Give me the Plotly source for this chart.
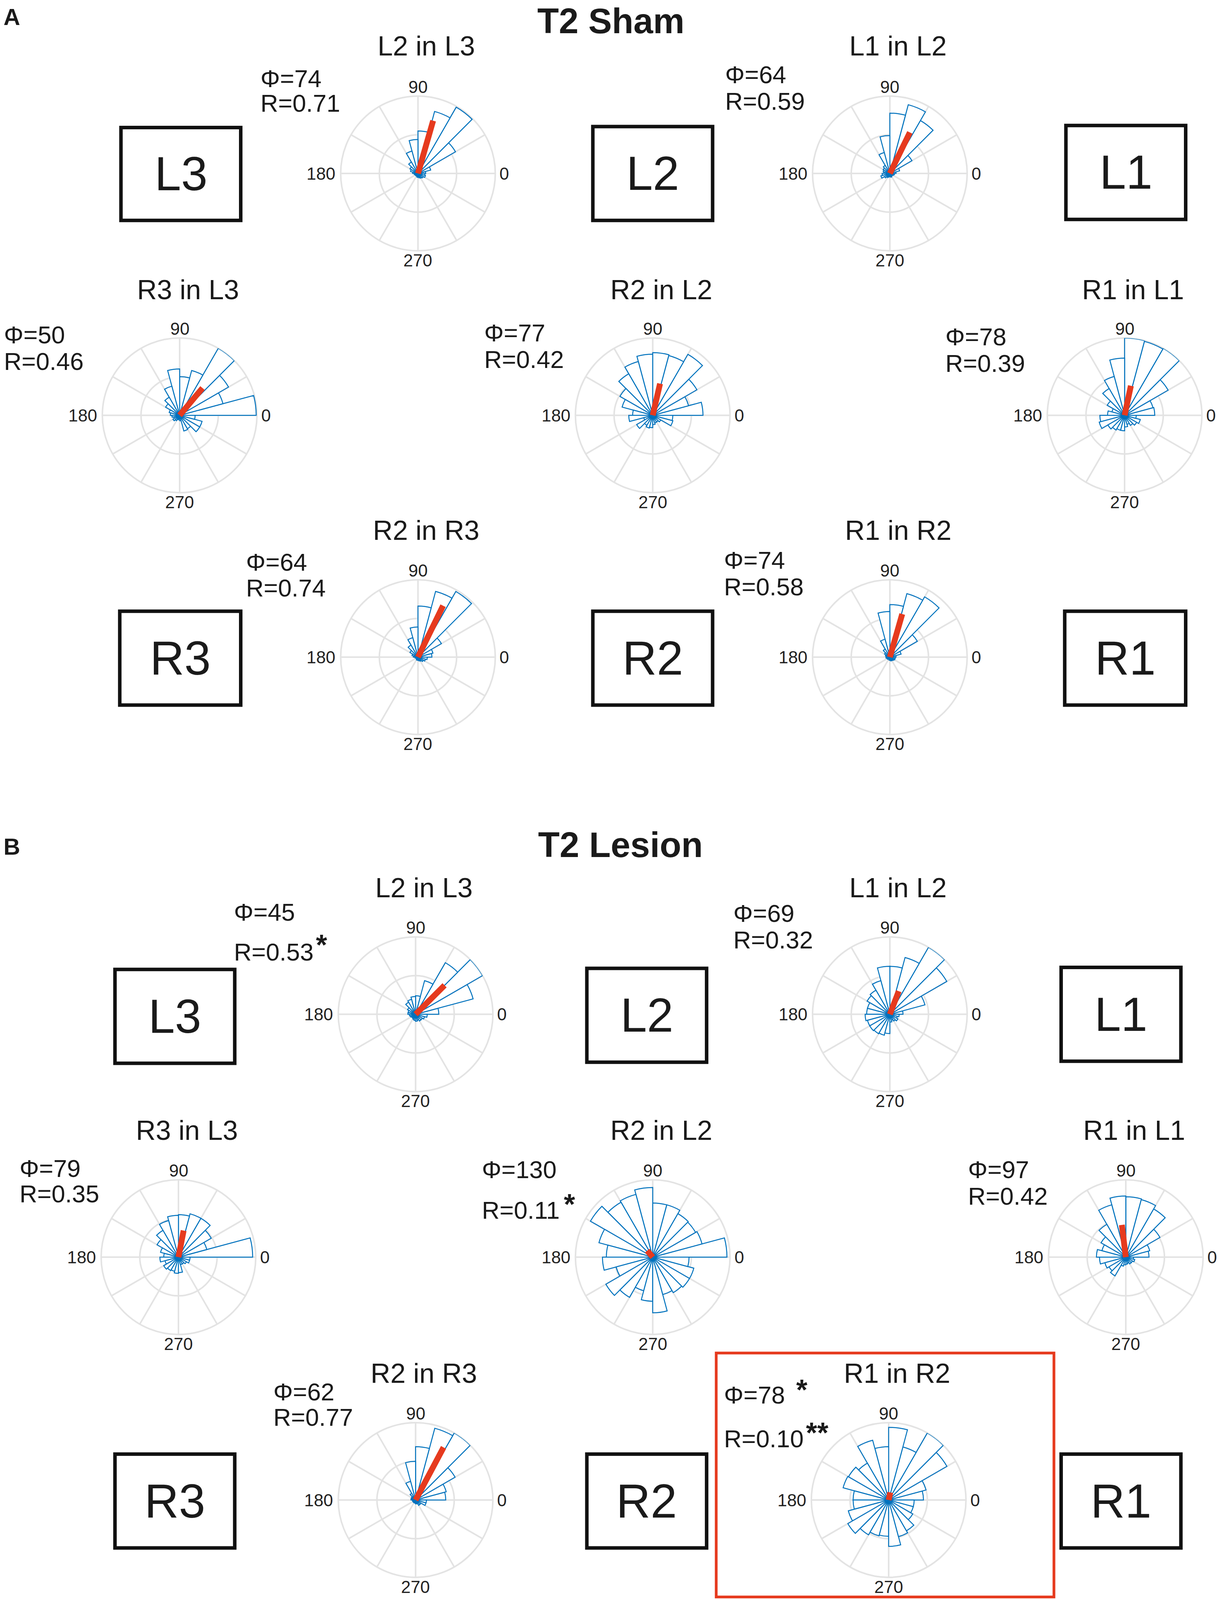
import plotly.graph_objects as go
import plotly.io as pio

W, H = 3150, 4810
FONT = "Liberation Sans, Arial, sans-serif"

# ---------------- data ----------------
bin_width = 15
bin_centers = [7.5 + 15 * i for i in range(24)]   # 0..360 in 15 degree bins

angle_tickvals = [0, 30, 60, 90, 120, 150, 180, 210, 240, 270, 300, 330]
angle_labels = ["0", "90", "180", "270"]

# relative bin heights (outer ring = 1)
sham_L2_in_L3 = [0.10, 0.17, 0.56, 0.99, 0.83, 0.55, 0.44, 0.30, 0.17, 0.12, 0.10, 0.07,
                 0.05, 0.04, 0.04, 0.03, 0.04, 0.05, 0.05, 0.06, 0.07, 0.08, 0.10, 0.09]
sham_L1_in_L2 = [0.08, 0.13, 0.33, 0.79, 0.92, 0.78, 0.49, 0.28, 0.12, 0.10, 0.09, 0.08,
                 0.10, 0.12, 0.08, 0.06, 0.05, 0.04, 0.04, 0.05, 0.04, 0.04, 0.05, 0.06]
sham_R3_in_L3 = [0.99, 0.58, 0.73, 1.00, 0.60, 0.50, 0.60, 0.39, 0.27, 0.21, 0.14, 0.12,
                 0.10, 0.08, 0.10, 0.08, 0.06, 0.05, 0.07, 0.21, 0.20, 0.30, 0.30, 0.20]
sham_R2_in_L2 = [0.65, 0.48, 0.66, 0.91, 0.80, 0.81, 0.79, 0.72, 0.62, 0.49, 0.41, 0.26,
                 0.31, 0.12, 0.24, 0.15, 0.17, 0.16, 0.12, 0.10, 0.10, 0.12, 0.27, 0.26]
sham_R1_in_L1 = [0.39, 0.38, 0.65, 1.00, 0.99, 1.00, 0.74, 0.52, 0.40, 0.26, 0.17, 0.22,
                 0.32, 0.34, 0.25, 0.22, 0.20, 0.20, 0.15, 0.12, 0.15, 0.18, 0.21, 0.15]
sham_R2_in_R3 = [0.18, 0.20, 0.35, 0.98, 0.88, 0.66, 0.39, 0.26, 0.18, 0.12, 0.08, 0.06,
                 0.04, 0.03, 0.03, 0.03, 0.04, 0.04, 0.04, 0.05, 0.06, 0.08, 0.10, 0.12]
sham_R1_in_R2 = [0.08, 0.15, 0.41, 0.90, 0.85, 0.68, 0.59, 0.24, 0.12, 0.08, 0.06, 0.05,
                 0.05, 0.04, 0.04, 0.03, 0.03, 0.04, 0.04, 0.05, 0.05, 0.06, 0.07, 0.07]

les_L2_in_L3 = [0.30, 0.77, 1.00, 0.77, 0.45, 0.24, 0.23, 0.20, 0.18, 0.12, 0.10, 0.10,
                0.08, 0.07, 0.06, 0.06, 0.07, 0.08, 0.09, 0.08, 0.10, 0.10, 0.12, 0.15]
les_L1_in_L2 = [0.17, 0.47, 0.85, 1.00, 0.76, 0.62, 0.62, 0.45, 0.36, 0.34, 0.30, 0.30,
                0.32, 0.30, 0.30, 0.29, 0.28, 0.25, 0.10, 0.08, 0.10, 0.12, 0.10, 0.12]
les_R3_in_L3 = [0.96, 0.38, 0.49, 0.58, 0.58, 0.55, 0.54, 0.49, 0.40, 0.32, 0.24, 0.19,
                0.24, 0.18, 0.22, 0.20, 0.19, 0.21, 0.20, 0.10, 0.10, 0.12, 0.15, 0.15]
les_R2_in_L2 = [0.96, 0.66, 0.64, 0.65, 0.70, 0.70, 0.90, 0.84, 0.82, 0.93, 0.72, 0.60,
                0.65, 0.49, 0.70, 0.60, 0.45, 0.57, 0.72, 0.50, 0.53, 0.55, 0.55, 0.47]
les_R1_in_L1 = [0.30, 0.32, 0.51, 0.72, 0.77, 0.78, 0.79, 0.70, 0.49, 0.37, 0.32, 0.38,
                0.34, 0.28, 0.25, 0.28, 0.12, 0.10, 0.09, 0.08, 0.10, 0.10, 0.12, 0.10]
les_R2_in_R3 = [0.39, 0.41, 0.59, 1.00, 0.96, 0.69, 0.50, 0.25, 0.10, 0.06, 0.06, 0.06,
                0.04, 0.04, 0.04, 0.04, 0.04, 0.04, 0.05, 0.05, 0.08, 0.08, 0.14, 0.14]
les_R1_in_R2 = [0.45, 0.50, 0.87, 1.00, 0.71, 0.94, 0.69, 0.80, 0.55, 0.60, 0.61, 0.46,
                0.46, 0.54, 0.61, 0.52, 0.48, 0.47, 0.60, 0.49, 0.46, 0.36, 0.33, 0.33]

plot_titles = ["L2 in L3", "L1 in L2", "R3 in L3", "R2 in L2", "R1 in L1", "R2 in R3", "R1 in R2"]
sham_series = [sham_L2_in_L3, sham_L1_in_L2, sham_R3_in_L3, sham_R2_in_L2,
               sham_R1_in_L1, sham_R2_in_R3, sham_R1_in_R2]
lesion_series = [les_L2_in_L3, les_L1_in_L2, les_R3_in_L3, les_R2_in_L2,
                 les_R1_in_L1, les_R2_in_R3, les_R1_in_R2]
sham_phi = [74, 64, 50, 77, 78, 64, 74]
sham_R = [0.71, 0.59, 0.46, 0.42, 0.39, 0.74, 0.58]
lesion_phi = [45, 69, 79, 130, 97, 62, 78]
lesion_R = [0.53, 0.32, 0.35, 0.11, 0.42, 0.77, 0.10]
lesion_phi_sig = ["", "", "", "", "", "", "*"]
lesion_R_sig = ["*", "", "", "*", "", "", "**"]
box_labels_top = ["L3", "L2", "L1"]
box_labels_bottom = ["R3", "R2", "R1"]

# ---------------- layout geometry ----------------
# positions given in units of the reference at 1027 x 1568
SX = 3150 / 1027.0
SY = 4810 / 1568.0

sham_centres = [(349, 170), (743, 170), (150, 407), (545, 407), (939, 407), (349, 644), (743, 644)]
sham_title_y = [45, 45, 284, 284, 284, 520, 520]
sham_lab = [(217, 77, 101), (605, 73, 99), (3, 328, 354), (404, 326, 352),
            (789, 330, 356), (205, 551, 576), (604, 549, 575)]
les_centres = [(347, 994), (743, 994), (149, 1232), (545, 1232), (940, 1232), (347, 1470), (742, 1470)]
les_title_y = [870, 870, 1108, 1108, 1108, 1346, 1346]
les_lab = [(195, 894, 933), (612, 895, 921), (16, 1145, 1170), (402, 1146, 1186),
           (808, 1146, 1172), (228, 1364, 1389), (604, 1367, 1410)]
sham_boxes = [(101, 201, 125, 216), (495, 595, 124, 216), (890, 990, 123, 215),
              (100, 201, 599, 691), (495, 595, 599, 691), (889, 990, 599, 691)]
les_boxes = [(96, 196, 950, 1042), (490, 590, 949, 1041), (886, 986, 948, 1040),
             (96, 196, 1425, 1517), (490, 590, 1425, 1517), (886, 986, 1425, 1517)]
star_y = {("R", 0): 926, ("R", 3): 1180, ("P", 6): 1362, ("R", 6): 1404}

BLUE = "#0072BD"
RED = "#E63A1E"
GRID = "#E3E3E3"
TXT = "#1a1a1a"

CHAR_EM = {"R": 0.722, "=": 0.584, ".": 0.278, "\u03a6": 0.78}


def text_em(s):
    return sum(CHAR_EM.get(c, 0.556) for c in s)


def polar_name(idx):
    return "polar" if idx == 1 else f"polar{idx}"


def build_layout(Hv):
    """Layout for a page of width W and height Hv (vertical positions follow the reference proportionally)."""
    k = Hv / H
    f = k ** 0.5          # font scale
    RAD = 226 if k >= 1 else 198
    tick_off = 31 if k >= 1 else 24
    tf = 52 if k >= 1 else 48

    def X(v):
        return v * SX

    def Y(v):
        return v * SY * k

    annotations, shapes, polars = [], [], {}

    def text(x, y, s, size, bold=False, xanchor="center", yanchor="middle", color=TXT):
        annotations.append(dict(
            x=x / W, y=1 - y / Hv, xref="paper", yref="paper",
            text=(f"<b>{s}</b>" if bold else s), showarrow=False,
            xanchor=xanchor, yanchor=yanchor, borderpad=0,
            font=dict(family=FONT, size=size * f, color=color)))

    def polar(idx, centre):
        cx, cy = X(centre[0]), Y(centre[1])
        polars[polar_name(idx)] = dict(
            domain=dict(x=[(cx - RAD) / W, (cx + RAD) / W],
                        y=[1 - (cy + RAD) / Hv, 1 - (cy - RAD) / Hv]),
            bgcolor="white", bargap=0,
            angularaxis=dict(rotation=0, direction="counterclockwise",
                             tickmode="array", tickvals=angle_tickvals, showticklabels=False,
                             ticks="", showline=True, linecolor=GRID, linewidth=4,
                             showgrid=True, gridcolor=GRID, gridwidth=4, layer="below traces"),
            radialaxis=dict(range=[0, 1], tickvals=[0.5, 1.0], showticklabels=False, ticks="",
                            showline=False, showgrid=True, gridcolor=GRID, gridwidth=4,
                            layer="below traces"),
        )
        text(cx, cy - RAD - tick_off, angle_labels[1], tf, color="#222222")
        text(cx, cy + RAD + tick_off, angle_labels[3], tf, color="#222222")
        text(cx - RAD - 12, cy, angle_labels[2], tf, xanchor="right", color="#222222")
        text(cx + RAD + 10, cy, angle_labels[0], tf, xanchor="left", color="#222222")

    lab_fs = 68
    idx = 1
    for i in range(7):
        polar(idx, sham_centres[i]); idx += 1
        cx = sham_centres[i][0]
        text(X(cx + 7), Y(sham_title_y[i]), plot_titles[i], 76)
        lx, ly1, ly2 = sham_lab[i]
        text(X(lx), Y(ly1), f"\u03a6={sham_phi[i]}", lab_fs, xanchor="left")
        text(X(lx), Y(ly2), f"R={sham_R[i]:.2f}", lab_fs, xanchor="left")
    for i in range(7):
        polar(idx, les_centres[i]); idx += 1
        cx = les_centres[i][0]
        text(X(cx + 7), Y(les_title_y[i]), plot_titles[i], 76)
        lx, ly1, ly2 = les_lab[i]
        s_phi = f"\u03a6={lesion_phi[i]}"
        s_r = f"R={lesion_R[i]:.2f}"
        text(X(lx), Y(ly1), s_phi, lab_fs, xanchor="left")
        text(X(lx), Y(ly2), s_r, lab_fs, xanchor="left")
        # significance stars placed just after the end of each label
        for kind, s_lab, sig in (("P", s_phi, lesion_phi_sig[i]), ("R", s_r, lesion_R_sig[i])):
            if sig:
                gap = 30 if kind == "P" else 6
                x_end = X(lx) + text_em(s_lab) * lab_fs * f + gap
                text(x_end, Y(star_y[(kind, i)]), f"<b>{sig}</b>", 80, xanchor="left")

    for boxes in (sham_boxes, les_boxes):
        for j, (x0, x1, y0, y1) in enumerate(boxes):
            label = box_labels_top[j] if j < 3 else box_labels_bottom[j - 3]
            shapes.append(dict(type="rect", xref="paper", yref="paper",
                               x0=X(x0) / W, x1=X(x1) / W,
                               y0=1 - Y(y1) / Hv, y1=1 - Y(y0) / Hv,
                               line=dict(color="#111111", width=9), fillcolor="rgba(0,0,0,0)"))
            text(X((x0 + x1) / 2), Y((y0 + y1) / 2), label, 132)

    shapes.append(dict(type="rect", xref="paper", yref="paper",
                       x0=X(598) / W, x1=X(880) / W,
                       y0=1 - Y(1565) / Hv, y1=1 - Y(1326) / Hv,
                       line=dict(color=RED, width=7), fillcolor="rgba(0,0,0,0)"))

    text(X(510), 2, "T2 Sham", 98, bold=True, yanchor="top")
    text(X(518), Y(828), "T2 Lesion", 98, bold=True)
    text(X(10), Y(17), "A", 64, bold=True)
    text(X(10), Y(830), "B", 64, bold=True)

    return dict(width=W, height=Hv, margin=dict(l=0, r=0, t=0, b=0),
                paper_bgcolor="white", plot_bgcolor="white", showlegend=False,
                annotations=annotations, shapes=shapes, **polars)


fig = go.Figure()
idx = 1
for series, phis, Rs in ((sham_series, sham_phi, sham_R), (lesion_series, lesion_phi, lesion_R)):
    for i in range(7):
        name = polar_name(idx); idx += 1
        fig.add_trace(go.Barpolar(
            r=series[i], theta=bin_centers, width=[bin_width] * len(series[i]),
            marker=dict(color="white", line=dict(color=BLUE, width=2.5)),
            subplot=name, showlegend=False, hoverinfo="skip"))
        fig.add_trace(go.Scatterpolar(
            r=[0, Rs[i]], theta=[phis[i], phis[i]], mode="lines",
            line=dict(color=RED, width=15),
            subplot=name, showlegend=False, hoverinfo="skip"))

fig.update_layout(**build_layout(H))

# If the browser viewport is shorter than the nominal page, refit the layout to it
alt_height = 4096
alt_fig = go.Figure(layout=build_layout(alt_height))
alt_layout_json = pio.to_json(alt_fig)

fit_js = """
document.body.style.margin = '0px';
document.body.style.overflow = 'hidden';
var gd = document.getElementById('{plot_id}');
var ih = window.innerHeight;
if (ih && ih < %d) {
  var alt = %s;
  var lay = alt.layout;
  lay.height = ih;
  Plotly.react(gd, gd.data, lay, {displayModeBar: false});
}
""" % (H - 10, alt_layout_json)

fig.write_html("out.html", post_script=fit_js, config={"displayModeBar": False})
